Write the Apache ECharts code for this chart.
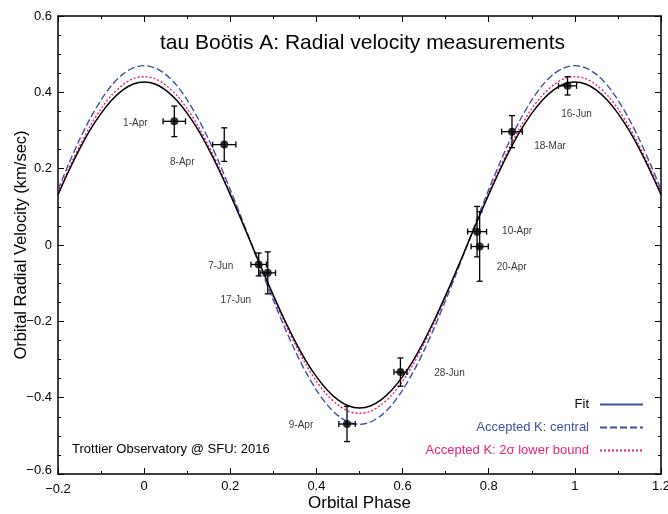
<!DOCTYPE html>
<html>
<head>
<meta charset="utf-8">
<script src="https://cdn.jsdelivr.net/npm/echarts@6/dist/echarts.min.js"></script>
<style>
html,body{margin:0;padding:0;background:#fff;}
#chart{width:668px;height:514px;}
</style>
</head>
<body>
<div id="chart"></div>
<script>
// ---- Data ----
var curvePhase = [-0.2,-0.175,-0.15,-0.125,-0.1,-0.075,-0.05,-0.025,0,0.025,0.05,0.075,0.1,0.125,0.15,0.175,0.2,0.225,0.25,0.275,0.3,0.325,0.35,0.375,0.4,0.425,0.45,0.475,0.5,0.525,0.55,0.575,0.6,0.625,0.65,0.675,0.7,0.725,0.75,0.775,0.8,0.825,0.85,0.875,0.9,0.925,0.95,0.975,1.0,1.025,1.05,1.075,1.1,1.125,1.15,1.175,1.2];
var fitCurve = [0.132,0.194,0.251,0.302,0.345,0.380,0.406,0.422,0.427,0.422,0.406,0.380,0.345,0.302,0.251,0.194,0.132,0.067,0,-0.067,-0.132,-0.194,-0.251,-0.302,-0.345,-0.380,-0.406,-0.422,-0.427,-0.422,-0.406,-0.380,-0.345,-0.302,-0.251,-0.194,-0.132,-0.067,0,0.067,0.132,0.194,0.251,0.302,0.345,0.380,0.406,0.422,0.427,0.422,0.406,0.380,0.345,0.302,0.251,0.194,0.132];
var centralCurve = [0.145,0.213,0.276,0.332,0.380,0.419,0.447,0.464,0.470,0.464,0.447,0.419,0.380,0.332,0.276,0.213,0.145,0.074,0,-0.074,-0.145,-0.213,-0.276,-0.332,-0.380,-0.419,-0.447,-0.464,-0.470,-0.464,-0.447,-0.419,-0.380,-0.332,-0.276,-0.213,-0.145,-0.074,0,0.074,0.145,0.213,0.276,0.332,0.380,0.419,0.447,0.464,0.470,0.464,0.447,0.419,0.380,0.332,0.276,0.213,0.145];
var lowerCurve = [0.136,0.200,0.259,0.312,0.357,0.393,0.419,0.436,0.441,0.436,0.419,0.393,0.357,0.312,0.259,0.200,0.136,0.069,0,-0.069,-0.136,-0.200,-0.259,-0.312,-0.357,-0.393,-0.419,-0.436,-0.441,-0.436,-0.419,-0.393,-0.357,-0.312,-0.259,-0.200,-0.136,-0.069,0,0.069,0.136,0.200,0.259,0.312,0.357,0.393,0.419,0.436,0.441,0.436,0.419,0.393,0.357,0.312,0.259,0.200,0.136];

var obsDates = ['1-Apr','8-Apr','7-Jun','17-Jun','9-Apr','28-Jun','10-Apr','20-Apr','18-Mar','16-Jun'];
var obsPhase = [0.070,0.186,0.266,0.287,0.471,0.595,0.773,0.779,0.854,0.983];
var obsVel = [0.324,0.263,-0.051,-0.073,-0.469,-0.333,0.035,-0.004,0.297,0.417];
var obsPhaseErr = [0.026,0.027,0.018,0.018,0.019,0.015,0.022,0.020,0.024,0.021];
var obsVelErr = [0.040,0.044,0.030,0.055,0.046,0.037,0.066,0.091,0.042,0.024];

var xTicks = [-0.2,0,0.2,0.4,0.6,0.8,1,1.2];
var yTicks = [-0.6,-0.4,-0.2,0,0.2,0.4,0.6];

// ---- Presentation ----
var FONT = '"Liberation Sans", Arial, Helvetica, sans-serif';
var BLUE = '#3d4fab';
var PINK = '#e8207e';
var labelOffsets = {
  '1-Apr':[-39,2], '8-Apr':[-42,18], '7-Jun':[-38,2], '17-Jun':[-32,27], '9-Apr':[-46,1],
  '28-Jun':[49,1], '10-Apr':[40,0], '20-Apr':[32,21], '18-Mar':[38,15], '16-Jun':[9,28]
};

function fmt(v){
  var r = Math.round(v*10)/10;
  return String(r).replace('-', '\u2212');
}
function zip(xs, ys){ return xs.map(function(x,i){ return [x, ys[i]]; }); }

var chart = echarts.init(document.getElementById('chart'), null, {renderer:'canvas'});

var axisCommon = {
  type:'value',
  axisLine:{show:true, onZero:false, lineStyle:{color:'#000', width:1.5}},
  axisTick:{show:true, inside:true, length:6, lineStyle:{color:'#000', width:1}},
  splitLine:{show:false},
  minorSplitLine:{show:false},
  nameMoveOverlap:false
};

var option = {
  animation:false,
  backgroundColor:'#fff',
  textStyle:{fontFamily:FONT},
  title:{
    text:'tau Bo\u00f6tis A: Radial velocity measurements',
    left:155, top:28,
    textStyle:{fontFamily:FONT, fontSize:21, fontWeight:'normal', color:'#000'}
  },
  grid:{left:58, right:7, top:16, bottom:40, containLabel:false, outerBoundsMode:'none'},
  legend:{
    orient:'vertical',
    right:19, top:393,
    align:'right',
    itemWidth:43, itemHeight:14, itemGap:10,
    itemStyle:{opacity:0, borderWidth:0},
    textStyle:{fontFamily:FONT, fontSize:13, padding:[0,6,0,0]},
    data:[
      {name:'Fit', textStyle:{color:'#000'}, lineStyle:{color:BLUE, type:'solid', width:2}},
      {name:'Accepted K: central', textStyle:{color:BLUE}},
      {name:'Accepted K: 2\u03c3 lower bound', textStyle:{color:PINK}}
    ]
  },
  xAxis:[
    Object.assign({}, axisCommon, {
      position:'bottom', min:-0.2, max:1.2, interval:0.2,
      minorTick:{show:true, splitNumber:2, length:3, lineStyle:{color:'#000', width:1}},
      name:'Orbital Phase', nameLocation:'middle', nameGap:21,
      nameTextStyle:{fontFamily:FONT, fontSize:17, color:'#000'},
      axisLabel:{show:true, color:'#000', fontFamily:FONT, fontSize:13, margin:6,
        formatter:function(v){ var s=fmt(v); return Math.abs(v+0.2)<1e-6 ? '{a|'+s+'}' : s; },
        rich:{a:{fontFamily:FONT, fontSize:13, color:'#000', padding:[3,0,0,0]}}
      }
    }),
    Object.assign({}, axisCommon, {
      position:'top', min:-0.2, max:1.2, interval:0.2,
      minorTick:{show:true, splitNumber:2, length:3, lineStyle:{color:'#000', width:1}},
      axisLabel:{show:false}
    })
  ],
  yAxis:[
    Object.assign({}, axisCommon, {
      position:'left', min:-0.6, max:0.6, interval:0.2,
      minorTick:{show:true, splitNumber:4, length:3, lineStyle:{color:'#000', width:1}},
      name:'Orbital Radial Velocity (km/sec)', nameLocation:'middle', nameGap:28,
      nameTextStyle:{fontFamily:FONT, fontSize:16.5, color:'#000'},
      axisLabel:{show:true, color:'#000', fontFamily:FONT, fontSize:13, margin:6,
        formatter:function(v){ var s=fmt(v); return Math.abs(v+0.6)<1e-6 ? '{a|'+s+'}' : s; },
        rich:{a:{fontFamily:FONT, fontSize:13, color:'#000', padding:[0,0,8,0]}}
      }
    }),
    Object.assign({}, axisCommon, {
      position:'right', min:-0.6, max:0.6, interval:0.2,
      minorTick:{show:true, splitNumber:4, length:3, lineStyle:{color:'#000', width:1}},
      axisLabel:{show:false}
    })
  ],
  graphic:[
    {type:'text', left:72, top:443, style:{text:'Trottier Observatory @ SFU: 2016', fill:'#000', font:'13px '+FONT}}
  ],
  series:[
    {
      name:'Fit', type:'line', xAxisIndex:0, yAxisIndex:0, smooth:0.3, symbol:'none', z:3,
      lineStyle:{color:'#000', width:1.5, type:'solid'}, itemStyle:{color:'#000'},
      data: zip(curvePhase, fitCurve)
    },
    {
      name:'Accepted K: central', type:'line', xAxisIndex:0, yAxisIndex:0, smooth:0.3, symbol:'none', z:2,
      lineStyle:{color:BLUE, width:1.4, type:[7,3]}, itemStyle:{color:BLUE},
      data: zip(curvePhase, centralCurve)
    },
    {
      name:'Accepted K: 2\u03c3 lower bound', type:'line', xAxisIndex:0, yAxisIndex:0, smooth:0.3, symbol:'none', z:2,
      lineStyle:{color:PINK, width:1.4, type:[2,2]}, itemStyle:{color:PINK},
      data: zip(curvePhase, lowerCurve)
    },
    {
      name:'errors', type:'custom', xAxisIndex:0, yAxisIndex:0, z:4,
      data: obsPhase.map(function(x,i){ return [x, obsVel[i], obsPhaseErr[i], obsVelErr[i]]; }),
      renderItem:function(params, api){
        var x=api.value(0), y=api.value(1), xe=api.value(2), ye=api.value(3);
        var top=api.coord([x, y+ye]), bot=api.coord([x, y-ye]);
        var lef=api.coord([x-xe, y]), rig=api.coord([x+xe, y]);
        var c=3, st={stroke:'#000', lineWidth:1.3};
        return {type:'group', children:[
          {type:'line', shape:{x1:top[0],y1:top[1],x2:bot[0],y2:bot[1]}, style:st},
          {type:'line', shape:{x1:top[0]-c,y1:top[1],x2:top[0]+c,y2:top[1]}, style:st},
          {type:'line', shape:{x1:bot[0]-c,y1:bot[1],x2:bot[0]+c,y2:bot[1]}, style:st},
          {type:'line', shape:{x1:lef[0],y1:lef[1],x2:rig[0],y2:rig[1]}, style:st},
          {type:'line', shape:{x1:lef[0],y1:lef[1]-c,x2:lef[0],y2:lef[1]+c}, style:st},
          {type:'line', shape:{x1:rig[0],y1:rig[1]-c,x2:rig[0],y2:rig[1]+c}, style:st}
        ]};
      }
    },
    {
      name:'points', type:'scatter', xAxisIndex:0, yAxisIndex:0, z:5,
      symbol:'circle', symbolSize:8, itemStyle:{color:'#000'},
      data: obsPhase.map(function(x,i){
        return {value:[x, obsVel[i]], name:obsDates[i],
          label:{show:true, position:'inside', offset:labelOffsets[obsDates[i]], formatter:obsDates[i],
            color:'#000', fontFamily:FONT, fontSize:10}};
      })
    }
  ]
};
chart.setOption(option);
</script>
</body>
</html>
